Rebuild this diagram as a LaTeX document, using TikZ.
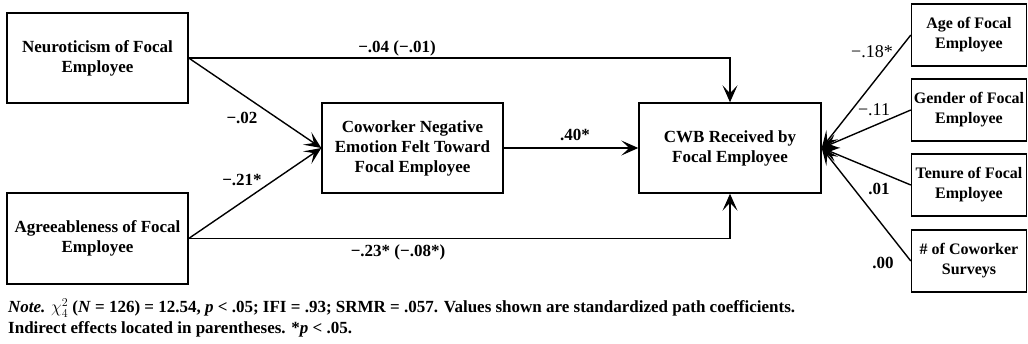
\documentclass[tikz,border=0pt]{standalone}
\usepackage{fontspec}
\setmainfont{Liberation Serif}
\usetikzlibrary{arrows.meta}
\begin{document}
\begin{tikzpicture}[x=1pt,y=-1pt,
  box/.style={draw, line width=1.4pt, inner sep=0pt, align=center,
    font=\fontsize{17}{20}\selectfont\bfseries},
  sbox/.style={box, minimum width=115pt, minimum height=62pt,
    font=\fontsize{16}{20}\selectfont\bfseries},
  conn/.style={line width=1.4pt, -{Stealth[length=17pt,width=15pt,inset=8pt]}},
  lab/.style={inner sep=0pt, font=\fontsize{17}{20}\selectfont\bfseries},
  rlab/.style={inner sep=0pt, font=\fontsize{18}{20}\selectfont},
  note/.style={inner sep=0pt, anchor=west, font=\fontsize{17}{20}\selectfont\bfseries}]
\useasboundingbox (0,0) rectangle (1028,343);
% boxes
\node[box, minimum width=181pt, minimum height=90pt] (neuro) at (97.5,58) {Neuroticism of Focal\\Employee};
\node[box, minimum width=181pt, minimum height=91pt] (agree) at (97.5,238.5) {Agreeableness of Focal\\Employee};
\node[box, minimum width=181pt, minimum height=90pt] (cow) at (412.5,148) {Coworker Negative\\Emotion Felt Toward\\Focal Employee};
\node[box, minimum width=182pt, minimum height=90pt] (cwb) at (730,148) {CWB Received by\\Focal Employee};
\node[sbox] (age) at (969,35) {Age of Focal\\Employee};
\node[sbox] (gender) at (969,110) {Gender of Focal\\Employee};
\node[sbox] (tenure) at (969,185) {Tenure of Focal\\Employee};
\node[sbox] (surv) at (969,261) {\# of Coworker\\Surveys};
% connectors
\draw[conn] (neuro.east) -- (cow.west);
\draw[conn] (agree.east) -- (cow.west);
\draw[conn] (neuro.east) -| (cwb.north);
\draw[conn] (agree.east) -| (cwb.south);
\draw[conn] (cow.east) -- (cwb.west);
\draw[conn] (age.west) -- (cwb.east);
\draw[conn] (gender.west) -- (cwb.east);
\draw[conn] (tenure.west) -- (cwb.east);
\draw[conn] (surv.west) -- (cwb.east);
% labels
\node[lab] (l1) at (397,48) {−.04 (−.01)};
\node[lab] (l2) at (242,118) {−.02};
\node[lab] (l3) at (242,180) {−.21*};
\node[lab] (l4) at (398,252) {−.23* (−.08*)};
\node[lab] (l5) at (575,135) {.40*};
\node[rlab] (l6) at (872,52) {−.18*};
\node[rlab] (l7) at (874,110) {−.11};
\node[lab] (l8) at (879,189) {.01};
\node[lab] (l9) at (883,263) {.00};
% note
\node[note] (n1) at (8,308) {\textit{Note.} \mbox{$\chi^{2}_{4}$} (\textit{N} = 126) = 12.54, \textit{p} < .05; IFI = .93; SRMR = .057. Values shown are standardized path coefficients.};
\node[note] (n2) at (8,329) {Indirect effects located in parentheses. *\textit{p} < .05.};
\end{tikzpicture}
\end{document}
